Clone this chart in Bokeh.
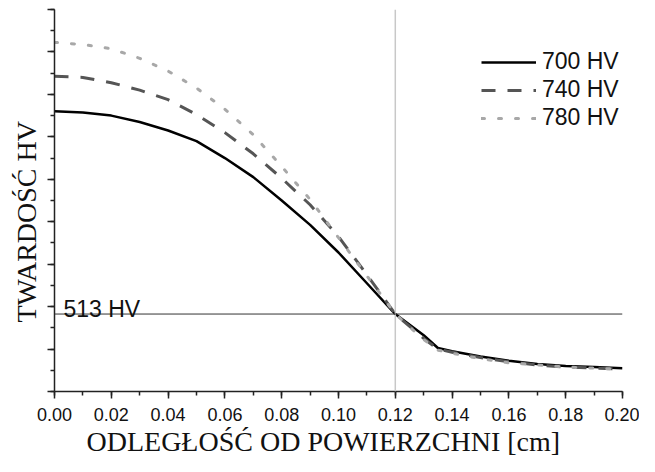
from bokeh.plotting import figure
from bokeh.models import (Range1d, SingleIntervalTicker, NumeralTickFormatter, Span,
                          Label, Legend, LegendItem, Title)
from bokeh.embed import file_html
from bokeh.resources import INLINE

# ---- data ----
depth_cm = [0.00, 0.01, 0.02, 0.03, 0.04, 0.05, 0.06, 0.07, 0.08, 0.09, 0.10,
            0.11, 0.12, 0.13, 0.135, 0.14, 0.15, 0.16, 0.17, 0.18, 0.19, 0.20]
hv_700 = [704, 703, 700, 694, 686, 676, 660, 642, 620, 597, 571,
          542, 513, 493, 481, 478, 473, 469, 466, 464, 463, 462]
hv_740 = [737, 736, 731, 724, 715, 701, 684, 664, 641, 616, 586,
          550, 513, 490, 480, 477, 472, 468, 465, 463, 462, 461]
hv_780 = [769, 767, 763, 754, 742, 726, 706, 682, 652, 621, 585,
          549, 513, 489, 479, 476, 471, 467, 465, 463, 462, 461]
series_labels = ["700 HV", "740 HV", "780 HV"]
ref_hv = 513
ref_depth = 0.12
x_title = "ODLEGŁOŚĆ OD POWIERZCHNI [cm]"
y_title = "TWARDOŚĆ HV"

p = figure(width=639, height=456, output_backend="svg", toolbar_location=None,
           x_range=Range1d(0, 0.2), y_range=Range1d(440, 800),
           min_border_left=54, min_border_right=17, min_border_top=9, min_border_bottom=65)
p.outline_line_color = None
p.xgrid.visible = False
p.ygrid.visible = False
p.background_fill_color = "white"
p.border_fill_color = "white"

AX = "#222222"

# x axis
xa = p.xaxis[0]
xa.ticker = SingleIntervalTicker(interval=0.02, num_minor_ticks=2)
xa.formatter = NumeralTickFormatter(format="0.00")
xa.major_label_text_font = "Liberation Sans"
xa.major_label_text_font_size = "18px"
xa.major_label_text_color = "#111111"
xa.major_label_standoff = 9
xa.major_tick_out = 7
xa.major_tick_in = 0
xa.minor_tick_out = 4
xa.minor_tick_in = 0
xa.axis_line_width = 1.5
xa.axis_line_color = AX
xa.major_tick_line_width = 1.5
xa.major_tick_line_color = AX
xa.minor_tick_line_width = 1.5
xa.minor_tick_line_color = AX

# y axis: tick marks only, no tick labels
ya = p.yaxis[0]
ya.ticker = SingleIntervalTicker(interval=40, num_minor_ticks=2)
ya.major_label_text_font_size = "1px"
ya.major_label_text_color = None
ya.major_label_standoff = 0
ya.major_tick_out = 7
ya.major_tick_in = 0
ya.minor_tick_out = 4
ya.minor_tick_in = 0
ya.axis_line_width = 1.5
ya.axis_line_color = AX
ya.major_tick_line_width = 1.5
ya.major_tick_line_color = AX
ya.minor_tick_line_width = 1.5
ya.minor_tick_line_color = AX

# reference lines
p.add_layout(Span(location=ref_depth, dimension="height", line_color="#c8c8c8", line_width=1.5))
p.add_layout(Span(location=ref_hv, dimension="width", line_color="#333333", line_width=1))

# curves
r1 = p.line(depth_cm, hv_700, line_color="black", line_width=2.5)
r2 = p.line(depth_cm, hv_740, line_color="#555555", line_width=3, line_dash="14 12")
r3 = p.line(depth_cm, hv_780, line_color="#a8a8a8", line_width=3, line_dash="3 14",
            line_cap="round")

legend = Legend(items=[LegendItem(label=series_labels[0], renderers=[r1]),
                       LegendItem(label=series_labels[1], renderers=[r2]),
                       LegendItem(label=series_labels[2], renderers=[r3])],
                location=(427, 260), glyph_width=55, glyph_height=20, label_height=20,
                label_standoff=6, spacing=1, padding=0, margin=0,
                border_line_color=None, background_fill_alpha=0,
                label_text_font="Liberation Sans", label_text_font_size="23px",
                label_text_color="#111111")
p.add_layout(legend)

p.add_layout(Label(x=0, y=ref_hv, x_offset=9, y_offset=5, text=f"{ref_hv} HV",
                   text_font="Liberation Sans", text_font_size="23px",
                   text_color="#111111", text_baseline="alphabetic"))

# axis titles (as side titles so they can be offset like the reference)
p.add_layout(Title(text=x_title, align="left", offset=32, standoff=0,
                   text_font="Liberation Serif", text_font_size="28px",
                   text_font_style="normal", text_color="#111111"), "below")
p.add_layout(Title(text=y_title, align="left", offset=69, standoff=12,
                   text_font="Liberation Serif", text_font_size="28px",
                   text_font_style="normal", text_color="#111111"), "left")

open("out.html", "w").write(file_html(p, INLINE))
